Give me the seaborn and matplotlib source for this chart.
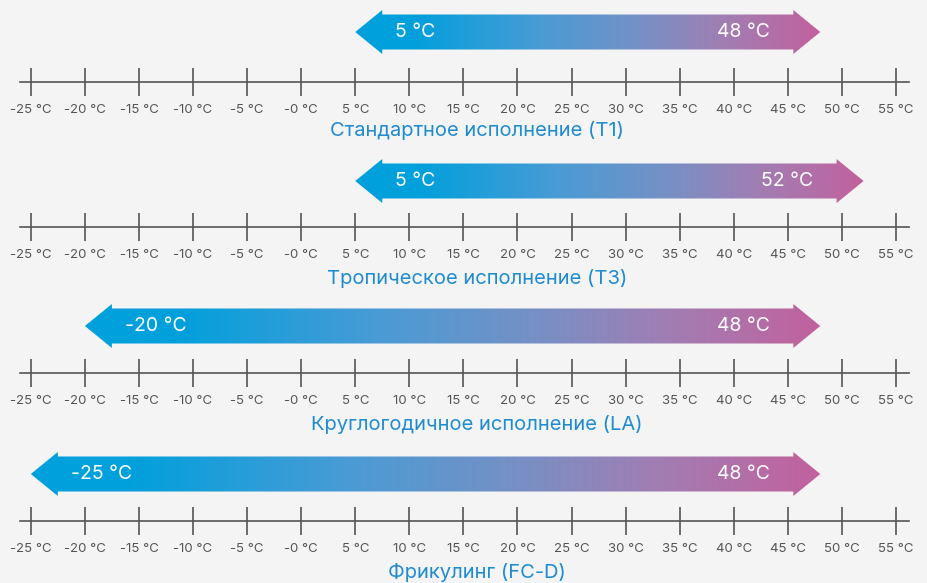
# Рабочие диапазоны температур по исполнениям

import matplotlib
matplotlib.use("Agg")
import matplotlib.pyplot as plt
from matplotlib.colors import LinearSegmentedColormap
from matplotlib.patches import Polygon
import seaborn as sns
import numpy as np

# данные
titles = [
    "Стандартное исполнение (T1)",
    "Тропическое исполнение (T3)",
    "Круглогодичное исполнение (LA)",
    "Фрикулинг (FC-D)",
]
t_min = [5, 5, -20, -25]
t_max = [48, 52, 48, 48]
ticks = list(range(-25, 60, 5))
tick_labels = ["-0 °C" if t == 0 else f"{t} °C" for t in ticks]

W, H = 927, 583
BG = "#f4f4f4"
TEXT_GRAY = "#555555"
TITLE_BLUE = "#1f8bd0"

# вертикальное положение панелей (пиксели сверху)
axis_y = [82, 227, 372.5, 521]
arrow_y = [32, 181, 326, 474]
title_y = [131, 278, 424, 572]

grad = LinearSegmentedColormap.from_list(
    "arrow",
    [(0.0, "#00a0dc"), (0.12, "#00a0dc"), (0.4, "#4a9bd5"),
     (0.6, "#7391c6"), (0.8, "#a27db2"), (1.0, "#c2619e")],
)

sns.set_theme(style="white", rc={"figure.facecolor": BG, "axes.facecolor": BG})
plt.rcParams["font.family"] = ["Inter", "DejaVu Sans"]

fig = plt.figure(figsize=(W / 100, H / 100), dpi=100)

x_left, x_right = -26.0, 56.2
px_per_deg = (909 - 20) / (x_right - x_left)
head_len = 27 / px_per_deg
body_half, head_half = 17.5, 22

for i in range(4):
    top = arrow_y[i] - 26
    h = axis_y[i] - top
    ax = fig.add_axes([20 / W, 1 - axis_y[i] / H, 889 / W, h / H])
    ax.set_facecolor("none")

    lo, hi = t_min[i], t_max[i]
    yc = axis_y[i] - arrow_y[i]
    pts = [
        (lo, yc),
        (lo + head_len, yc + head_half),
        (lo + head_len, yc + body_half),
        (hi - head_len, yc + body_half),
        (hi - head_len, yc + head_half),
        (hi, yc),
        (hi - head_len, yc - head_half),
        (hi - head_len, yc - body_half),
        (lo + head_len, yc - body_half),
        (lo + head_len, yc - head_half),
    ]
    poly = Polygon(pts, closed=True, facecolor="none", edgecolor="none")
    ax.add_patch(poly)
    img = ax.imshow(
        np.linspace(0, 1, 256).reshape(1, -1), cmap=grad, aspect="auto",
        extent=[lo, hi, yc - head_half, yc + head_half], interpolation="bilinear",
    )
    img.set_clip_path(poly)

    ax.text(lo + 40 / px_per_deg, yc, f"{lo} °C", color="white", fontsize=14,
            ha="left", va="center")
    ax.text(hi - 50 / px_per_deg, yc, f"{hi} °C", color="white", fontsize=14,
            ha="right", va="center")

    ax.set_xlim(x_left, x_right)
    ax.set_ylim(0, h)
    for s in ["top", "left", "right"]:
        ax.spines[s].set_visible(False)
    ax.spines["bottom"].set_color(TEXT_GRAY)
    ax.spines["bottom"].set_linewidth(1.2)
    ax.set_yticks([])
    ax.set_xticks(ticks)
    ax.set_xticklabels(tick_labels)
    ax.tick_params(axis="x", direction="inout", length=20, width=1.2,
                   color=TEXT_GRAY, labelcolor=TEXT_GRAY, labelsize=9.5, pad=6,
                   bottom=True)

    fig.text(477 / W, 1 - title_y[i] / H, titles[i], color=TITLE_BLUE,
             fontsize=14.5, ha="center", va="center")

fig.savefig("out.png", dpi=100, facecolor=BG)
